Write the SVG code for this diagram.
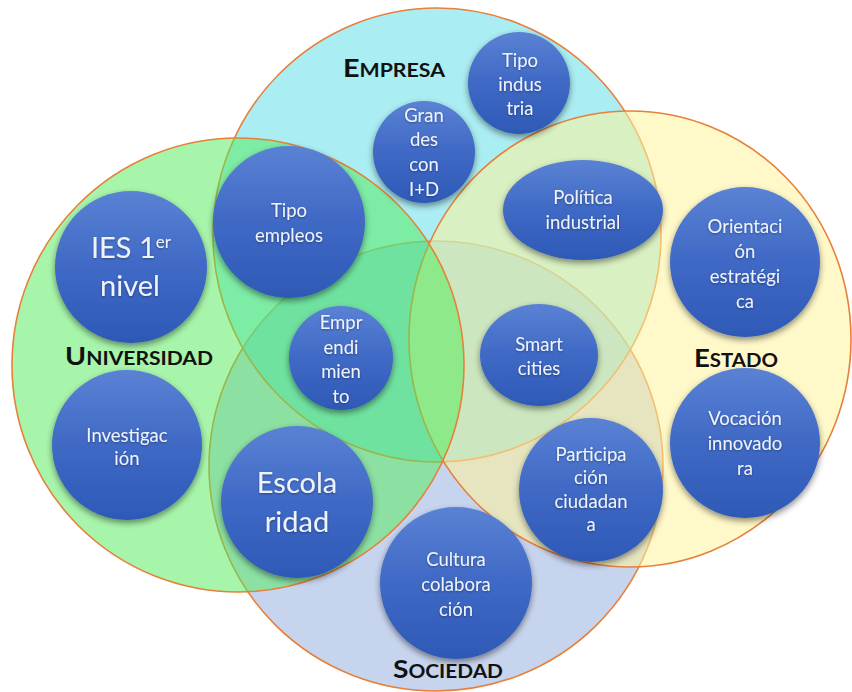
<svg xmlns="http://www.w3.org/2000/svg" width="852" height="692" viewBox="0 0 852 692">
<defs>
<linearGradient id="bub" x1="0" y1="0" x2="0" y2="1">
<stop offset="0" stop-color="#5A82D4"/>
<stop offset="0.5" stop-color="#3F69C5"/>
<stop offset="1" stop-color="#2E59B6"/>
</linearGradient>
<filter id="sh" x="-30%" y="-30%" width="160%" height="170%">
<feDropShadow dx="0" dy="3" stdDeviation="3" flood-color="#000" flood-opacity="0.45"/>
</filter>
<filter id="tsh" x="-10%" y="-30%" width="120%" height="160%">
<feDropShadow dx="0" dy="1" stdDeviation="0.8" flood-color="#000" flood-opacity="0.35"/>
</filter>
</defs>
<style>
.set{stroke:#E7803A;stroke-width:1.6}
.b{fill:url(#bub);filter:url(#sh)}
.t{font-family:Lato,"Open Sans",sans-serif;font-size:18.5px;fill:#EEF2FA;text-anchor:middle;filter:url(#tsh)}
.big{font-size:29px}
.lab{font-family:Lato,"Liberation Sans",sans-serif;font-weight:700;fill:#111;text-anchor:middle}
.cap{font-size:25px}
.sc{font-size:18.5px}
</style>
<rect width="852" height="692" fill="#FFFFFF"/>
<g id="sets">
<ellipse id="set-sociedad" class="set" cx="436" cy="466" rx="227" ry="225" fill="#8FA9DD" fill-opacity="0.5"/>
<ellipse id="set-empresa" class="set" cx="437" cy="235" rx="224" ry="227" fill="#55DCE6" fill-opacity="0.5"/>
<ellipse id="set-estado" class="set" cx="630" cy="339" rx="221" ry="228" fill="#FFF29B" fill-opacity="0.55"/>
<ellipse id="set-universidad" class="set" cx="238" cy="365" rx="226" ry="227" fill="#50EB55" fill-opacity="0.5"/>
</g>
<g id="labels">
<text class="lab" x="394" y="77" textLength="102" lengthAdjust="spacingAndGlyphs"><tspan class="cap">E</tspan><tspan class="sc">MPRESA</tspan></text>
<text class="lab" x="139" y="365" textLength="148" lengthAdjust="spacingAndGlyphs"><tspan class="cap">U</tspan><tspan class="sc">NIVERSIDAD</tspan></text>
<text class="lab" x="736" y="367" textLength="84" lengthAdjust="spacingAndGlyphs"><tspan class="cap">E</tspan><tspan class="sc">STADO</tspan></text>
<text class="lab" x="448" y="678" textLength="110" lengthAdjust="spacingAndGlyphs"><tspan class="cap">S</tspan><tspan class="sc">OCIEDAD</tspan></text>
</g>
<g id="tipo-industria">
<circle class="b" cx="519" cy="83" r="51"/>
<text class="t" x="520" y="67">Tipo</text>
<text class="t" x="520" y="91">indus</text>
<text class="t" x="520" y="115">tria</text>
</g>
<g id="grandes-con-id">
<circle class="b" cx="424" cy="152" r="51"/>
<text class="t" x="424" y="122">Gran</text>
<text class="t" x="424" y="146">des</text>
<text class="t" x="424" y="171">con</text>
<text class="t" x="424" y="196">I+D</text>
</g>
<g id="tipo-empleos">
<circle class="b" cx="289" cy="222" r="76"/>
<text class="t" x="289" y="217">Tipo</text>
<text class="t" x="289" y="242">empleos</text>
</g>
<g id="ies-1er-nivel">
<circle class="b" cx="131" cy="267" r="76"/>
<text class="t big" x="131" y="258">IES 1<tspan font-size="17" dy="-10">er</tspan></text>
<text class="t big" x="130" y="296">nivel</text>
</g>
<g id="emprendimiento">
<circle class="b" cx="341" cy="358" r="52"/>
<text class="t" x="341" y="329">Empr</text>
<text class="t" x="341" y="354">endi</text>
<text class="t" x="341" y="378">mien</text>
<text class="t" x="341" y="403">to</text>
</g>
<g id="investigacion">
<circle class="b" cx="127" cy="445" r="75"/>
<text class="t" x="127" y="442">Investigac</text>
<text class="t" x="127" y="465">ión</text>
</g>
<g id="escolaridad">
<circle class="b" cx="297" cy="502" r="76"/>
<text class="t big" x="297" y="493">Escola</text>
<text class="t big" x="297" y="532">ridad</text>
</g>
<g id="cultura-colaboracion">
<circle class="b" cx="456" cy="583" r="76"/>
<text class="t" x="456" y="566">Cultura</text>
<text class="t" x="456" y="591">colabora</text>
<text class="t" x="456" y="616">ción</text>
</g>
<g id="participacion-ciudadana">
<circle class="b" cx="591" cy="490" r="72"/>
<text class="t" x="591" y="461">Participa</text>
<text class="t" x="591" y="484">ción</text>
<text class="t" x="591" y="508">ciudadan</text>
<text class="t" x="591" y="531">a</text>
</g>
<g id="smart-cities">
<ellipse class="b" cx="539" cy="355" rx="59" ry="51"/>
<text class="t" x="539" y="351">Smart</text>
<text class="t" x="539" y="375">cities</text>
</g>
<g id="politica-industrial">
<ellipse class="b" cx="583" cy="210" rx="80" ry="50"/>
<text class="t" x="583" y="204">Política</text>
<text class="t" x="583" y="229">industrial</text>
</g>
<g id="orientacion-estrategica">
<circle class="b" cx="745" cy="262" r="75"/>
<text class="t" x="745" y="233">Orientaci</text>
<text class="t" x="745" y="258">ón</text>
<text class="t" x="745" y="283">estratégi</text>
<text class="t" x="745" y="308">ca</text>
</g>
<g id="vocacion-innovadora">
<circle class="b" cx="745" cy="443" r="75"/>
<text class="t" x="745" y="425">Vocación</text>
<text class="t" x="745" y="450">innovado</text>
<text class="t" x="745" y="475">ra</text>
</g>
</svg>
